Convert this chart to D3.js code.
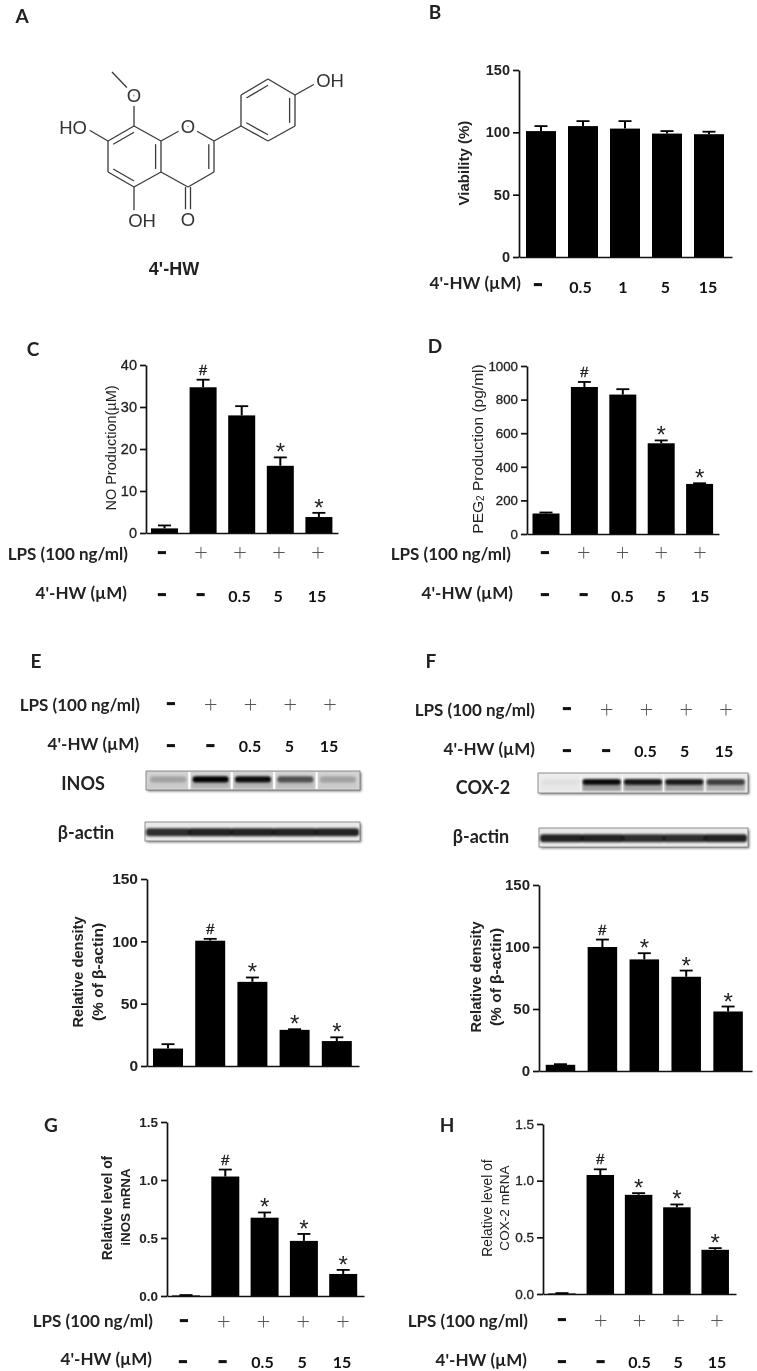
<!DOCTYPE html>
<html>
<head>
<meta charset="utf-8">
<title>4'-HW</title>
<script src="https://cdn.jsdelivr.net/npm/d3@7"></script>
<style>
    html, body { margin: 0; padding: 0; background: #fff; }
    svg { display: block; filter: blur(0.45px); }
</style>
</head>
<body>
<svg id="figure" width="757" height="1371"></svg>
<script>
// values
var viabilityValues = [101, 105, 103, 99, 98.5];
var viabilityTops = [105, 109, 109, 101, 100.5];
var noValues = [1.1, 34.7, 28, 16, 3.8];
var noTops = [1.8, 36.5, 30.2, 18, 4.8];
var pegValues = [122, 875, 830, 540, 298];
var pegTops = [128, 905, 862, 557, 302];
var inosDensity = [14, 100.5, 67.5, 29, 20];
var inosDensityTops = [17.5, 102, 71, 29.5, 23];
var coxDensity = [5, 100, 90, 76, 48];
var coxDensityTops = [5.5, 106, 95, 81, 52];
var inosMrna = [0.005, 1.03, 0.675, 0.475, 0.19];
var inosMrnaTops = [0.008, 1.09, 0.72, 0.535, 0.225];
var coxMrna = [0.005, 1.05, 0.875, 0.765, 0.39];
var coxMrnaTops = [0.008, 1.1, 0.89, 0.79, 0.405];

var lpsSigns = ["–", "+", "+", "+", "+"];
var hwDoses = ["–", "–", "0.5", "5", "15"];
var hwDosesB = ["–", "0.5", "1", "5", "15"];
var marksNone = ["", "", "", "", ""];
var marksC = ["", "#", "", "*", "*"];
var marksAll = ["", "#", "*", "*", "*"];

var ticks150 = [0, 50, 100, 150];
var ticks40 = [0, 10, 20, 30, 40];
var ticks1000 = [0, 200, 400, 600, 800, 1000];
var ticks15 = [0, 0.5, 1, 1.5];

// blot band strength per lane
var inosBands = [0.22, 1, 0.95, 0.62, 0.22];
var coxBands = [0.04, 0.95, 0.9, 0.88, 0.72];
var actinBandsE = [0.8, 0.85, 0.85, 0.85, 0.85];
var actinBandsF = [0.85, 0.85, 0.8, 0.8, 0.85];

var svg = d3.select("#figure");
var labelFont = "Lato, 'Open Sans', sans-serif";
var axisFont = "'Liberation Sans', Arial, sans-serif";

var defs = svg.append("defs");
defs.append("filter").attr("id", "soft")
    .attr("x", "-20%").attr("y", "-150%").attr("width", "140%").attr("height", "400%")
    .append("feGaussianBlur").attr("stdDeviation", 1);
defs.append("filter").attr("id", "shade")
    .attr("x", "-10%").attr("y", "-30%").attr("width", "120%").attr("height", "160%")
    .append("feGaussianBlur").attr("stdDeviation", 1.3);

function drawBars(p) {
    let g = svg.append("g");
    let x = d3.scaleBand()
        .domain(d3.range(p.values.length))
        .range([p.first - p.step / 2, p.first + p.step * (p.values.length - 0.5)])
        .paddingInner(1 - p.barW / p.step)
        .paddingOuter((1 - p.barW / p.step) / 2);
    let y = d3.scaleLinear().domain([0, p.max]).range([p.base, p.top]);
    let cx = i => x(i) + x.bandwidth() / 2;

    g.selectAll(".bar")
        .data(p.values)
        .enter().append("rect")
        .attr("class", "bar")
        .attr("x", (d, i) => x(i))
        .attr("y", d => y(d))
        .attr("width", x.bandwidth())
        .attr("height", d => p.base - y(d))
        .attr("fill", "black");

    // only the upper half of each error bar is drawn
    g.selectAll(".stem")
        .data(p.tops)
        .enter().append("line")
        .attr("x1", (d, i) => cx(i))
        .attr("x2", (d, i) => cx(i))
        .attr("y1", (d, i) => y(p.values[i]))
        .attr("y2", d => y(d))
        .attr("stroke", "black")
        .attr("stroke-width", 2);
    g.selectAll(".cap")
        .data(p.tops)
        .enter().append("line")
        .attr("x1", (d, i) => cx(i) - 6.5)
        .attr("x2", (d, i) => cx(i) + 6.5)
        .attr("y1", d => y(d))
        .attr("y2", d => y(d))
        .attr("stroke", "black")
        .attr("stroke-width", 1.8);

    g.selectAll(".mark")
        .data(p.marks)
        .enter().append("text")
        .attr("x", (d, i) => cx(i))
        .attr("y", (d, i) => y(p.tops[i]) + (d === "#" ? -5 : 3))
        .attr("text-anchor", "middle")
        .attr("font-family", axisFont)
        .attr("font-size", d => d === "#" ? 14.5 : 24)
        .attr("fill", "#222")
        .attr("stroke", "#222")
        .attr("stroke-width", d => d === "#" ? 0.4 : 0)
        .text(d => d);

    let yAxis = d3.axisLeft(y)
        .tickValues(p.ticks)
        .tickSize(6)
        .tickSizeOuter(0)
        .tickFormat(p.format);
    let ya = g.append("g").attr("transform", "translate(" + p.axisX + ",0)").call(yAxis);
    ya.selectAll("path, line").attr("stroke", "#111").attr("stroke-width", 1.7);
    ya.selectAll("text")
        .attr("font-family", axisFont)
        .attr("font-size", p.tickSize)
        .attr("font-weight", p.tickWeight)
        .attr("fill", "#222")
        .attr("stroke", "#222")
        .attr("stroke-width", p.tickWeight === "bold" ? 0 : 0.3);

    let xScale = d3.scaleLinear().range([p.axisX, p.end]);
    let xa = g.append("g").attr("transform", "translate(0," + p.base + ")")
        .call(d3.axisBottom(xScale).tickValues([]).tickSizeOuter(0));
    xa.selectAll("path").attr("stroke", "#111").attr("stroke-width", 1.7);

    p.titles.forEach(function (t) {
        let txt = g.append("text")
            .attr("transform", "translate(" + t.x + "," + t.y + ") rotate(-90)")
            .attr("text-anchor", "middle")
            .attr("dominant-baseline", "central")
            .attr("font-family", axisFont)
            .attr("font-size", t.size)
            .attr("font-weight", t.weight || "normal")
            .attr("fill", "#222");
        if (t.sub) {
            txt.append("tspan").text(t.text);
            txt.append("tspan").attr("font-size", t.size * 0.65).attr("dy", 3).text(t.sub);
            txt.append("tspan").attr("dy", -3).text(t.rest);
        } else {
            txt.text(t.text);
        }
    });
}

function drawRow(label, row, items) {
    svg.append("text")
        .attr("x", row.right)
        .attr("y", row.y)
        .attr("text-anchor", "end")
        .attr("dominant-baseline", "central")
        .attr("font-family", labelFont)
        .attr("font-weight", "bold")
        .attr("font-size", 17)
        .attr("fill", "#222")
        .text(label);

    let x = d3.scalePoint().domain(d3.range(items.length)).range([row.x0, row.x1]);
    svg.selectAll(null)
        .data(items)
        .enter().append("text")
        .attr("x", (d, i) => x(i))
        .attr("y", d => (d === "–" ? row.dashY : row.itemY))
        .attr("text-anchor", "middle")
        .attr("dominant-baseline", "central")
        .attr("font-family", labelFont)
        .attr("font-weight", d => d === "+" ? 300 : "bold")
        .attr("font-size", d => d === "+" ? 24 : 16)
        .attr("fill", d => d === "+" ? "#555" : "#111")
        .attr("stroke", "#111")
        .attr("stroke-width", d => d === "–" ? 1.7 : 0)
        .text(d => d);
}

function panelLetter(t, x, y) {
    svg.append("text")
        .attr("x", x)
        .attr("y", y)
        .attr("text-anchor", "middle")
        .attr("dominant-baseline", "central")
        .attr("font-family", labelFont)
        .attr("font-weight", "bold")
        .attr("font-size", 19)
        .attr("fill", "#222")
        .text(t);
}

function drawBlot(b) {
    let g = svg.append("g");
    g.append("rect")
        .attr("x", b.x + 1.5).attr("y", b.y + 1.5)
        .attr("width", b.w).attr("height", b.h)
        .attr("fill", "#888")
        .attr("filter", "url(#shade)");
    g.append("rect")
        .attr("x", b.x).attr("y", b.y)
        .attr("width", b.w).attr("height", b.h)
        .attr("fill", b.bg)
        .attr("stroke", "#777")
        .attr("stroke-width", 0.8);

    let lane = d3.scaleBand()
        .domain(d3.range(b.bands.length))
        .range([b.x + 2, b.x + b.w - 2])
        .paddingInner(b.gap);

    // haze under the band
    if (b.haze) {
        g.selectAll(null)
            .data(b.bands)
            .enter().append("rect")
            .attr("x", (d, i) => lane(i) + 1)
            .attr("y", b.y + b.h * 0.55)
            .attr("width", lane.bandwidth() - 2)
            .attr("height", b.h * 0.35)
            .attr("fill", "black")
            .attr("opacity", d => d * b.haze)
            .attr("filter", "url(#soft)");
    }
    g.selectAll(null)
        .data(b.bands)
        .enter().append("rect")
        .attr("x", (d, i) => lane(i) + b.inset)
        .attr("y", b.y + b.h * b.bandY)
        .attr("width", lane.bandwidth() - 2 * b.inset)
        .attr("height", b.h * b.bandH)
        .attr("rx", 3)
        .attr("fill", "black")
        .attr("opacity", d => d)
        .attr("filter", "url(#soft)");
    if (b.gap > 0) {
        g.selectAll(null)
            .data(b.bands.slice(1))
            .enter().append("rect")
            .attr("x", (d, i) => lane(i + 1) - lane.step() * b.gap)
            .attr("y", b.y + 1)
            .attr("width", lane.step() * b.gap)
            .attr("height", b.h - 2)
            .attr("fill", "white");
    }
    svg.append("text")
        .attr("x", b.labelX)
        .attr("y", b.labelY)
        .attr("text-anchor", "middle")
        .attr("dominant-baseline", "central")
        .attr("font-family", labelFont)
        .attr("font-weight", "bold")
        .attr("font-size", 18)
        .attr("fill", "#222")
        .text(b.label);
}

// A: the molecule
var atoms = {
    me: [112, 72], ome: [134, 95], c8: [134, 126], c7: [108, 141], c6: [108, 172], c5: [134, 187],
    c4a: [161, 172], c8a: [161, 141], o1: [188, 126], c2: [214, 141], c3: [214, 172], c4: [188, 187],
    o4: [188, 219], oh5: [134, 219], oh7: [84, 127], p1: [241, 126], p2: [241, 95], p3: [268, 79],
    p4: [295, 95], p5: [295, 126], p6: [268, 141], oh4: [320, 81]
};
var singleBonds = [
    ["me", "ome"], ["ome", "c8"], ["c8", "c8a"], ["c7", "c6"], ["c5", "c4a"], ["c8a", "o1"],
    ["o1", "c2"], ["c3", "c4"], ["c4", "c4a"], ["c5", "oh5"], ["c7", "oh7"], ["c2", "p1"],
    ["p2", "p1"], ["p3", "p4"], ["p5", "p6"], ["p4", "oh4"]
];
// second line of a double bond lies toward this ring centre
var doubleBonds = [
    ["c8", "c7", [134, 157]], ["c6", "c5", [134, 157]], ["c4a", "c8a", [134, 157]],
    ["c2", "c3", [188, 157]], ["p2", "p3", [268, 110]], ["p4", "p5", [268, 110]], ["p6", "p1", [268, 110]]
];
var atomLabels = [
    ["O", 134, 95], ["HO", 73, 127], ["O", 188, 126], ["OH", 142, 220], ["O", 188, 219], ["OH", 330, 80]
];

function drawMolecule() {
    let g = svg.append("g").attr("stroke", "#3a3a3a").attr("stroke-width", 1.3).attr("fill", "none");
    function bond(a, b) {
        g.append("line").attr("x1", a[0]).attr("y1", a[1]).attr("x2", b[0]).attr("y2", b[1]);
    }
    singleBonds.forEach(b => bond(atoms[b[0]], atoms[b[1]]));
    doubleBonds.forEach(function (b) {
        let p = atoms[b[0]], q = atoms[b[1]], c = b[2];
        bond(p, q);
        let toC = t => [t[0] + (c[0] - t[0]) * 0.2, t[1] + (c[1] - t[1]) * 0.2];
        bond(toC(p), toC(q));
    });
    bond([atoms.c4[0] - 2.5, atoms.c4[1]], [atoms.o4[0] - 2.5, atoms.o4[1]]);
    bond([atoms.c4[0] + 2.5, atoms.c4[1]], [atoms.o4[0] + 2.5, atoms.o4[1]]);

    svg.selectAll(null)
        .data(atomLabels)
        .enter().append("text")
        .attr("x", d => d[1])
        .attr("y", d => d[2])
        .attr("text-anchor", "middle")
        .attr("dominant-baseline", "central")
        .attr("font-family", axisFont)
        .attr("font-size", 18.5)
        .attr("fill", "#333")
        .attr("stroke", "white")
        .attr("stroke-width", 8)
        .attr("paint-order", "stroke")
        .text(d => d[0]);

    svg.append("text")
        .attr("x", 174).attr("y", 269)
        .attr("text-anchor", "middle")
        .attr("dominant-baseline", "central")
        .attr("font-family", axisFont)
        .attr("font-weight", "bold")
        .attr("font-size", 18)
        .attr("fill", "#222")
        .text("4'-HW");
}

drawMolecule();

panelLetter("A", 22, 15);
panelLetter("B", 435, 11);
panelLetter("C", 33, 348);
panelLetter("D", 435, 345);
panelLetter("E", 36, 660);
panelLetter("F", 431, 660);
panelLetter("G", 51, 1124);
panelLetter("H", 447, 1124);

drawBars({
    values: viabilityValues, tops: viabilityTops, marks: marksNone, ticks: ticks150, max: 150,
    axisX: 519, top: 70, base: 257, end: 732, first: 541, step: 42, barW: 30,
    tickSize: 14.5, tickWeight: "bold", format: d3.format("d"),
    titles: [{ text: "Viability (%)", x: 463, y: 163, size: 15, weight: "bold" }]
});
drawBars({
    values: noValues, tops: noTops, marks: marksC, ticks: ticks40, max: 40,
    axisX: 146, top: 365, base: 533, end: 338, first: 164.5, step: 38.6, barW: 27,
    tickSize: 14.5, tickWeight: "normal", format: d3.format("d"),
    titles: [{ text: "NO Production(µM)", x: 111, y: 448, size: 14.5 }]
});
drawBars({
    values: pegValues, tops: pegTops, marks: marksC, ticks: ticks1000, max: 1000,
    axisX: 527, top: 366, base: 534, end: 719, first: 546, step: 38.4, barW: 27,
    tickSize: 13.3, tickWeight: "normal", format: d3.format("d"),
    titles: [{ text: "PEG", sub: "2", rest: " Production (pg/ml)", x: 477, y: 449, size: 15.5 }]
});
drawBars({
    values: inosDensity, tops: inosDensityTops, marks: marksAll, ticks: ticks150, max: 150,
    axisX: 147, top: 879, base: 1066, end: 359, first: 168, step: 42.2, barW: 30,
    tickSize: 15.5, tickWeight: "bold", format: d3.format("d"),
    titles: [
        { text: "Relative density", x: 78, y: 972, size: 14.6, weight: "bold" },
        { text: "(% of β-actin)", x: 97, y: 972, size: 15.5, weight: "bold" }
    ]
});
drawBars({
    values: coxDensity, tops: coxDensityTops, marks: marksAll, ticks: ticks150, max: 150,
    axisX: 539, top: 885, base: 1071, end: 752, first: 560.5, step: 41.9, barW: 29.5,
    tickSize: 15, tickWeight: "bold", format: d3.format("d"),
    titles: [
        { text: "Relative density", x: 476, y: 977, size: 14.6, weight: "bold" },
        { text: "(% of β-actin)", x: 495, y: 977, size: 15.5, weight: "bold" }
    ]
});
drawBars({
    values: inosMrna, tops: inosMrnaTops, marks: marksAll, ticks: ticks15, max: 1.5,
    axisX: 167, top: 1122, base: 1296, end: 364, first: 186, step: 39.3, barW: 28,
    tickSize: 13.5, tickWeight: "bold", format: d3.format(".1f"),
    titles: [
        { text: "Relative level of", x: 107, y: 1208, size: 13.8, weight: "bold" },
        { text: "iNOS mRNA", x: 125, y: 1207, size: 13.4, weight: "bold" }
    ]
});
drawBars({
    values: coxMrna, tops: coxMrnaTops, marks: marksAll, ticks: ticks15, max: 1.5,
    axisX: 543, top: 1124, base: 1294, end: 736, first: 562, step: 38.3, barW: 27.5,
    tickSize: 13.5, tickWeight: "normal", format: d3.format(".1f"),
    titles: [
        { text: "Relative level of", x: 487, y: 1208, size: 13.8 },
        { text: "COX-2 mRNA", x: 504, y: 1208, size: 13.6 }
    ]
});

var lpsLabel = "LPS (100 ng/ml)";
var hwLabel = "4'-HW (µM)";

drawRow(hwLabel, { right: 521, y: 282, x0: 538, x1: 708, itemY: 286, dashY: 282 }, hwDosesB);
drawRow(lpsLabel, { right: 128, y: 553, x0: 162, x1: 318, itemY: 550, dashY: 550 }, lpsSigns);
drawRow(hwLabel, { right: 127, y: 592, x0: 162, x1: 317, itemY: 595, dashY: 592 }, hwDoses);
drawRow(lpsLabel, { right: 511, y: 553, x0: 545, x1: 700, itemY: 550, dashY: 550 }, lpsSigns);
drawRow(hwLabel, { right: 513, y: 592, x0: 545, x1: 700, itemY: 595, dashY: 592 }, hwDoses);
drawRow(lpsLabel, { right: 140, y: 704, x0: 171, x1: 330, itemY: 702, dashY: 701 }, lpsSigns);
drawRow(hwLabel, { right: 139, y: 743, x0: 171, x1: 329, itemY: 745, dashY: 743 }, hwDoses);
drawRow(lpsLabel, { right: 535, y: 709, x0: 567, x1: 726, itemY: 707, dashY: 706 }, lpsSigns);
drawRow(hwLabel, { right: 535, y: 748, x0: 567, x1: 724, itemY: 750, dashY: 748 }, hwDoses);
drawRow(lpsLabel, { right: 153, y: 1320, x0: 184, x1: 343, itemY: 1319, dashY: 1318 }, lpsSigns);
drawRow(hwLabel, { right: 152, y: 1358, x0: 183, x1: 342, itemY: 1361, dashY: 1359 }, hwDoses);
drawRow(lpsLabel, { right: 528, y: 1320, x0: 562, x1: 717, itemY: 1318, dashY: 1317 }, lpsSigns);
drawRow(hwLabel, { right: 527, y: 1359, x0: 562, x1: 717, itemY: 1361, dashY: 1359 }, hwDoses);

drawBlot({
    label: "INOS", labelX: 83, labelY: 783, bands: inosBands, x: 146, y: 771, w: 214, h: 19,
    bg: "#d2d2d2", gap: 0.05, inset: 2, bandY: 0.28, bandH: 0.32, haze: 0.15
});
drawBlot({
    label: "β-actin", labelX: 86, labelY: 832, bands: actinBandsE, x: 145, y: 822, w: 215, h: 19,
    bg: "#e8e8e8", gap: 0, inset: -1, bandY: 0.33, bandH: 0.42
});
drawBlot({
    label: "COX-2", labelX: 483, labelY: 787, bands: coxBands, x: 538, y: 773, w: 210, h: 20,
    bg: "#ececec", gap: 0.015, inset: 1, bandY: 0.3, bandH: 0.3, haze: 0.35
});
drawBlot({
    label: "β-actin", labelX: 481, labelY: 836, bands: actinBandsF, x: 539, y: 828, w: 209, h: 19,
    bg: "#e8e8e8", gap: 0, inset: -1, bandY: 0.33, bandH: 0.42
});
</script>
</body>
</html>
